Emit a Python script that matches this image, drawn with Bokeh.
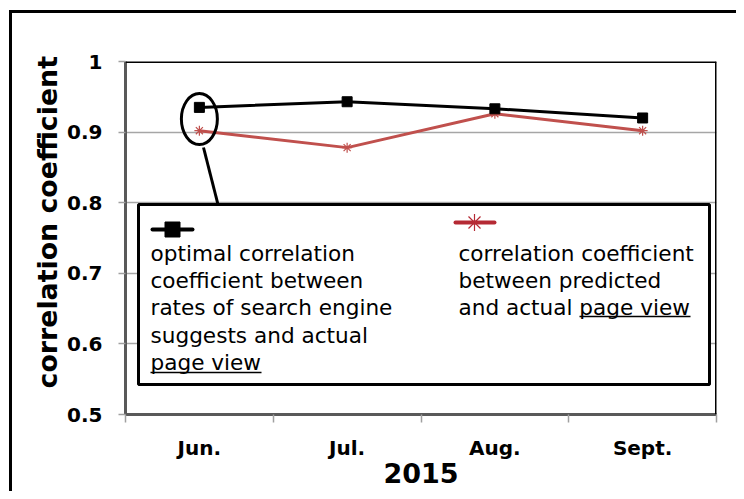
import numpy as np
from bokeh.plotting import figure
from bokeh.models import FixedTicker, Span, Range1d, Title
from bokeh.core.properties import value
from bokeh.embed import file_html
from bokeh.resources import INLINE

# ---- data ----
months = ["Jun.", "Jul.", "Aug.", "Sept."]
optimal_corr = [0.935, 0.943, 0.933, 0.920]
predicted_corr = [0.902, 0.878, 0.926, 0.902]
y_ticks = [0.5, 0.6, 0.7, 0.8, 0.9, 1.0]
y_tick_labels = ["0.5", "0.6", "0.7", "0.8", "0.9", "1"]
x_title = "2015"
y_title = "correlation coefficient"
legend_left = ["optimal correlation", "coefficient between", "rates of search engine",
               "suggests and actual", "page view"]
legend_right = ["correlation coefficient", "between predicted", "and actual page view"]

FONT_NAME = "DejaVu Sans"
FONT = value(FONT_NAME)
BLACK = "#000000"
RED = "#c0504d"
RED_LEG = "#b52a34"

x_pos = np.arange(len(months)) + 0.5
x_min, x_max = 0, len(months)
y_min, y_max = y_ticks[0], y_ticks[-1]

# canvas-pixel geometry
W, H = 736, 491
FL, FT, FW, FH = 125, 61, 591, 353


def dx(px):
    return x_min + (px - FL) / FW * (x_max - x_min)


def dy(py):
    return y_max - (py - FT) / FH * (y_max - y_min)


p = figure(frame_width=FW, frame_height=FH,
           x_range=Range1d(x_min, x_max), y_range=Range1d(y_min, y_max),
           output_backend="svg", toolbar_location=None,
           min_border_left=FL, min_border_top=FT,
           min_border_right=W - FL - FW, min_border_bottom=H - FT - FH,
           background_fill_color="white", border_fill_color=None)
p.outline_line_color = None
# outer frame of the picture: top and left black strokes drawn on the host background
p.styles = {
    "background": "linear-gradient(#000, #000) 9px 10px / 3px 100% no-repeat, "
                  "linear-gradient(#000, #000) 9px 10px / 100% 3px no-repeat, #ffffff"
}

# grid
p.xgrid.visible = False
p.ygrid.ticker = FixedTicker(ticks=y_ticks)
p.ygrid.grid_line_color = "#a6a6a6"
p.ygrid.grid_line_width = 1.5

# y axis
ya = p.yaxis[0]
ya.ticker = FixedTicker(ticks=y_ticks)
ya.major_label_overrides = dict(zip(y_ticks, y_tick_labels))
ya.major_label_text_font = FONT_NAME
ya.major_label_text_font_size = "20px"
ya.major_label_text_font_style = "bold"
ya.major_label_text_color = "black"
ya.major_label_standoff = 16
ya.major_tick_out = 7
ya.major_tick_in = 0
ya.major_tick_line_color = "#a0a0a0"
ya.major_tick_line_width = 1.5
ya.minor_tick_out = 0
ya.minor_tick_in = 0
ya.axis_line_color = "#595959"
ya.axis_line_width = 3

# y title (placed as a side title so it can sit a bit above centre)
p.add_layout(Title(text=y_title, align="left", offset=26, vertical_align="bottom",
                   standoff=4, text_font=FONT_NAME, text_font_size="26.8px",
                   text_font_style="bold", text_color="black"), "left")

# x axis
xa = p.xaxis[0]
xa.ticker = FixedTicker(ticks=[float(v) for v in x_pos],
                        minor_ticks=list(range(x_min, x_max + 1)))
xa.major_label_overrides = dict(zip([float(v) for v in x_pos], months))
xa.major_label_text_font = FONT_NAME
xa.major_label_text_font_size = "20px"
xa.major_label_text_font_style = "bold"
xa.major_label_text_color = "black"
xa.major_label_standoff = 13
xa.major_tick_out = 0
xa.major_tick_in = 0
xa.minor_tick_out = 8
xa.minor_tick_in = 0
xa.minor_tick_line_color = "#a0a0a0"
xa.minor_tick_line_width = 1.5
xa.axis_line_color = "#595959"
xa.axis_line_width = 3
xa.axis_label = x_title
xa.axis_label_text_font = FONT_NAME
xa.axis_label_text_font_size = "27px"
xa.axis_label_text_font_style = "bold"
xa.axis_label_text_color = "black"
xa.axis_label_standoff = 0

# top / right frame borders
p.add_layout(Span(location=y_max, dimension="width", line_color="black", line_width=3))
p.add_layout(Span(location=x_max, dimension="height", line_color="black", line_width=3))

# data series
p.line(x_pos, predicted_corr, line_color=RED, line_width=3)
p.scatter(x_pos, predicted_corr, marker="asterisk", size=10, line_color=RED, line_width=1.2)
p.line(x_pos, optimal_corr, line_color=BLACK, line_width=3)
p.scatter(x_pos, optimal_corr, marker="square", size=10, fill_color=BLACK, line_color=BLACK)

# callout ellipse around June points and pointer line
p.ellipse(x=[x_pos[0]], y=[(optimal_corr[0] + predicted_corr[0]) / 2], width=36, height=51,
          width_units="screen", height_units="screen",
          fill_alpha=0, line_color="black", line_width=3)
p.line([dx(203), dx(218)], [dy(147), dy(206)], line_color="black", line_width=3)

# legend box
p.quad(left=[dx(138)], right=[dx(709)], top=[dy(204)], bottom=[dy(384)],
       fill_color="white", line_color="black", line_width=3)

# legend markers
p.line([dx(152), dx(192)], [dy(229), dy(229)], line_color=BLACK, line_width=4, line_cap="round")
p.scatter([dx(172)], [dy(229)], marker="square", size=15, fill_color=BLACK, line_color=BLACK)
p.line([dx(455), dx(494)], [dy(222), dy(222)], line_color=RED_LEG, line_width=4, line_cap="round")
p.scatter([dx(474)], [dy(222)], marker="asterisk", size=17, line_color=RED_LEG, line_width=1.2)

# legend texts
line_gap = 27.2
p.text(x=[dx(150)] * len(legend_left),
       y=[dy(253 + line_gap * i) for i in range(len(legend_left))],
       text=legend_left, text_font=FONT, text_font_size="21.6px",
       text_baseline="middle", text_align="left", text_color="black")
p.text(x=[dx(458)] * len(legend_right),
       y=[dy(253 + line_gap * i) for i in range(len(legend_right))],
       text=legend_right, text_font=FONT, text_font_size="21.6px",
       text_baseline="middle", text_align="left", text_color="black")

# underlines of "page view"
p.segment(x0=[dx(150), dx(579)], x1=[dx(261), dx(690)],
          y0=[dy(372), dy(316)], y1=[dy(372), dy(316)],
          line_color="black", line_width=1.5)

open("out.html", "w").write(file_html(p, INLINE))
